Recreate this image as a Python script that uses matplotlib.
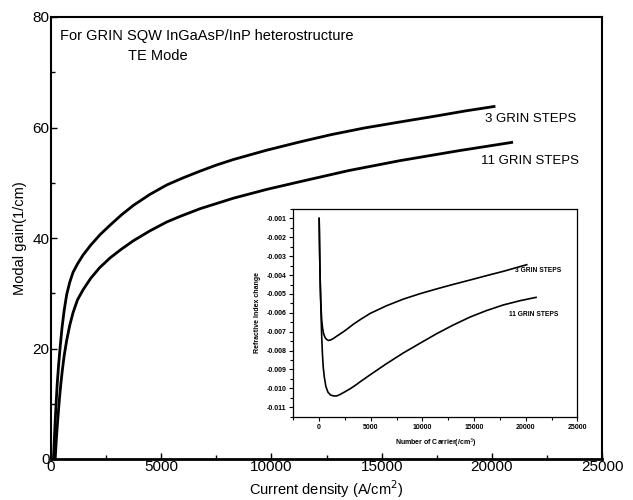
import matplotlib
import matplotlib.pyplot as plt
from matplotlib.ticker import MultipleLocator, FormatStrFormatter

matplotlib.use("Agg")
plt.rcParams["font.family"] = ["Liberation Sans", "DejaVu Sans"]

# modal gain vs current density
j_3steps = [110, 150, 190, 230, 280, 340, 408, 500, 600, 712, 850, 1000,
            1200, 1450, 1800, 2223, 2700, 3200, 3735, 4490, 5250, 6000, 6760,
            7500, 8270, 9790, 11300, 12700, 14200, 15830, 17500, 18800, 20100]
g_3steps = [0, 3.5, 7, 10, 13.5, 16.8, 20, 23.8, 27, 29.8, 32, 33.8,
            35.3, 36.9, 38.7, 40.6, 42.4, 44.2, 45.9, 47.9, 49.6, 50.9, 52.1,
            53.2, 54.2, 55.9, 57.4, 58.7, 59.9, 61.0, 62.1, 63.0, 63.8]
j_11steps = [190, 240, 300, 377, 450, 520, 600, 712, 850, 1000, 1200, 1450,
             1800, 2200, 2680, 3200, 3735, 4490, 5250, 5850, 6760, 8270, 9790,
             11300, 13500, 15830, 18500, 20900]
g_11steps = [0, 3.5, 6.8, 10.7, 13.8, 16.3, 18.8, 21.5, 24.2, 26.5, 28.8, 30.6,
             32.7, 34.6, 36.4, 38.0, 39.5, 41.3, 42.9, 43.9, 45.3, 47.2, 48.8,
             50.2, 52.2, 54.0, 55.8, 57.3]

# refractive index change vs carrier number (inset)
n_3steps = [0, 20, 40, 70, 100, 140, 190, 250, 330, 430, 550, 700, 900,
            1100, 1400, 1800, 2300, 2800, 3320, 4000, 4940, 6500, 8160, 9800,
            11390, 13000, 14620, 16200, 17840, 19000, 20100]
dn_3steps = [-0.001, -0.0017, -0.0025, -0.0035, -0.0043, -0.0051, -0.0058,
             -0.0064, -0.0068, -0.0071, -0.00728, -0.0074, -0.00746,
             -0.00744, -0.00735, -0.0072, -0.00702, -0.00682, -0.0066,
             -0.00635, -0.00603, -0.00563, -0.00527, -0.00498, -0.00473,
             -0.00449, -0.00426, -0.00403, -0.0038, -0.00362, -0.00345]
n_11steps = [0, 20, 40, 70, 100, 140, 190, 250, 320, 400, 500, 650, 850,
             1100, 1400, 1700, 2000, 2500, 3000, 3500, 4000, 4940, 6500, 8160,
             9800, 11390, 13000, 14620, 16200, 17840, 19500, 21000]
dn_11steps = [-0.001, -0.0017, -0.0025, -0.0035, -0.0043, -0.0052, -0.0062,
              -0.0073, -0.0082, -0.0089, -0.0094, -0.0099, -0.0102, -0.01035,
              -0.0104, -0.0104, -0.01033, -0.01018, -0.01002, -0.00984,
              -0.00964, -0.00928, -0.0087, -0.00812, -0.0076, -0.0071,
              -0.00664, -0.00622, -0.00588, -0.00558, -0.00535, -0.00518]

fig = plt.figure(figsize=(6.33, 5.0), dpi=100)
ax = fig.add_axes([0.0806, 0.082, 0.8705, 0.884])
ax.plot(j_3steps, g_3steps, color="black", lw=2)
ax.plot(j_11steps, g_11steps, color="black", lw=2)
ax.set_xlim(0, 25000)
ax.set_ylim(0, 80)
ax.xaxis.set_major_locator(MultipleLocator(5000))
ax.xaxis.set_minor_locator(MultipleLocator(2500))
ax.yaxis.set_major_locator(MultipleLocator(20))
ax.yaxis.set_minor_locator(MultipleLocator(10))
ax.tick_params(which="both", direction="in", labelsize=11, pad=1,
               top=False, right=False)
ax.tick_params(which="major", length=4, width=1)
ax.tick_params(which="minor", length=3, width=1)
for side in ["left", "right", "top"]:
    ax.spines[side].set_linewidth(1.5)
ax.spines["bottom"].set_linewidth(2)
ax.set_xlabel("Current density (A/cm$^2$)", fontsize=10.5, labelpad=3)
ax.set_ylabel("Modal gain(1/cm)", fontsize=10.5, labelpad=4)
ax.text(400, 76.5, "For GRIN SQW InGaAsP/InP heterostructure", fontsize=10.5,
        va="center")
ax.text(3500, 73, "TE Mode", fontsize=10.5, va="center")
ax.text(19690, 61.5, "3 GRIN STEPS", fontsize=9.5, va="center")
ax.text(19510, 53.9, "11 GRIN STEPS", fontsize=9.5, va="center")

ins = fig.add_axes([0.4634, 0.1666, 0.4487, 0.4154])
ins.plot(n_3steps, dn_3steps, color="black", lw=1.2)
ins.plot(n_11steps, dn_11steps, color="black", lw=1.2)
ins.set_xlim(-2500, 25000)
ins.set_ylim(-0.0115, -0.0005)
ins.xaxis.set_major_locator(MultipleLocator(5000))
ins.xaxis.set_minor_locator(MultipleLocator(2500))
ins.yaxis.set_major_locator(MultipleLocator(0.001))
ins.yaxis.set_minor_locator(MultipleLocator(0.0005))
ins.yaxis.set_major_formatter(FormatStrFormatter("%.3f"))
ins.tick_params(which="both", direction="out", labelsize=5, pad=2,
                top=False, right=False)
ins.tick_params(which="major", length=3, width=0.8)
ins.tick_params(which="minor", length=2, width=0.8)
for lbl in ins.get_xticklabels() + ins.get_yticklabels():
    lbl.set_fontweight("bold")
for sp in ins.spines.values():
    sp.set_linewidth(0.9)
ins.set_xlabel("Number of Carrier(/cm$^3$)", fontsize=5, fontweight="bold",
               labelpad=4)
ins.set_ylabel("Refractive Index change", fontsize=5, fontweight="bold",
               labelpad=4)
ins.text(18970, -0.00375, "3 GRIN STEPS", fontsize=4.8, fontweight="bold",
         va="center")
ins.text(18390, -0.0061, "11 GRIN STEPS", fontsize=4.8, fontweight="bold",
         va="center")

fig.savefig("out.png", dpi=100)
